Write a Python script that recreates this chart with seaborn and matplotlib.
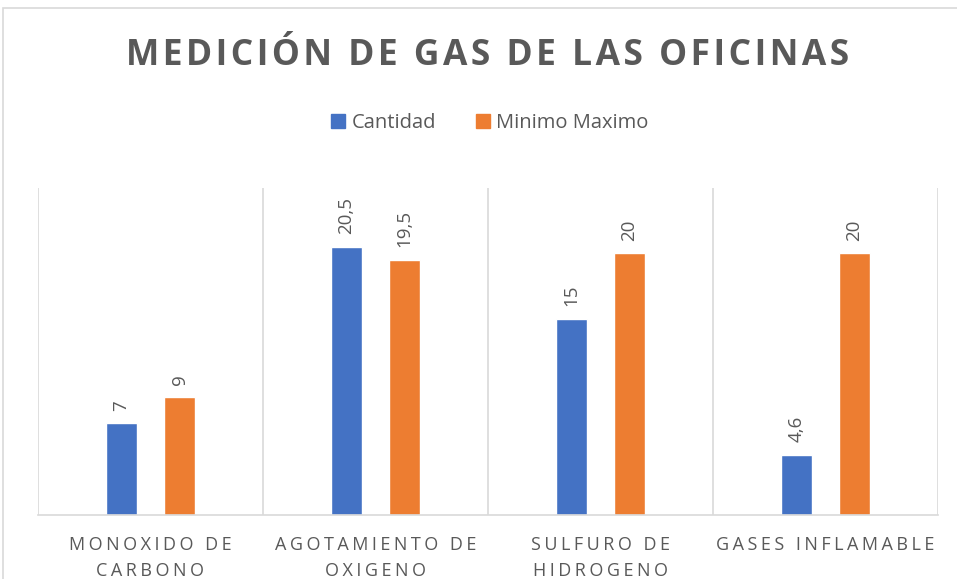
import numpy as np
import pandas as pd
import matplotlib
matplotlib.use("Agg")
import matplotlib.pyplot as plt
import seaborn as sns
from matplotlib.patches import Rectangle

# Data
categorias = ["MONOXIDO DE\nCARBONO", "AGOTAMIENTO DE\nOXIGENO", "SULFURO DE\nHIDROGENO", "GASES INFLAMABLE"]
cantidad = [7, 20.5, 15, 4.6]
minimo_maximo = [9, 19.5, 20, 20]
series = ["Cantidad", "Minimo Maximo"]
colores = ["#4472C4", "#ED7D31"]

df = pd.DataFrame({
    "categoria": categorias * 2,
    "serie": [series[0]] * 4 + [series[1]] * 4,
    "valor": cantidad + minimo_maximo,
})

sns.set_style("white")
plt.rcParams["font.family"] = ["Open Sans", "DejaVu Sans"]
gris = "#595959"

fig = plt.figure(figsize=(9.57, 5.79), dpi=100)
ax = fig.add_axes([38 / 957, 1 - 515 / 579, 900 / 957, (515 - 188) / 579])

sns.barplot(data=df, x="categoria", y="valor", hue="serie", palette=colores,
            width=0.516, gap=0.465, ax=ax, legend=False, saturation=1)

# value labels
for cont in ax.containers:
    ax.bar_label(cont, labels=[f"{v:g}".replace(".", ",") for v in cont.datavalues],
                 rotation=90, padding=9, color=gris, fontsize=13.5)

ax.set_ylim(0, 25)
ax.set_xlim(-0.5, 3.5)
ax.set_yticks([])
ax.set_xlabel("")
ax.set_ylabel("")


# letter spacing with hair spaces
def espaciar(t, n=1):
    sep = "\u200a" * n
    return "\n".join(sep.join(linea) for linea in t.split("\n"))


ax.set_xticks(range(len(categorias)))
ax.set_xticklabels([espaciar(c, 2) for c in categorias], color=gris, fontsize=13,
                   linespacing=1.6)
ax.tick_params(axis="x", length=0, pad=15)

ax.set_xticks(np.arange(-0.5, 4, 1), minor=True)
ax.tick_params(axis="x", which="minor", length=0)
ax.grid(True, which="minor", axis="x", color="#D9D9D9", linewidth=1.2)
for s in ["top", "right", "left"]:
    ax.spines[s].set_visible(False)
ax.spines["bottom"].set_color("#D9D9D9")
ax.spines["bottom"].set_linewidth(1.2)

# title
fig.text(488 / 957, 1 - 56 / 579, espaciar("MEDICIÓN DE GAS DE LAS OFICINAS", 1),
         ha="center", va="center", fontsize=25.5, fontweight="bold", color=gris)

# legend
handles = [Rectangle((0, 0), 1, 1, color=c) for c in colores]
fig.legend(handles, series, loc="center", bbox_to_anchor=(490 / 957, 1 - 123 / 579),
           ncol=2, frameon=False, fontsize=14.5, handlelength=0.7, handleheight=0.7,
           handletextpad=0.3, columnspacing=2.0, labelcolor=gris)

# outer border of the chart
fig.patches.append(Rectangle((3 / 957, -0.1), 1.2, 1 - 8 / 579 + 0.1, transform=fig.transFigure,
                             fill=False, edgecolor="#D9D9D9", linewidth=1.2))

fig.savefig("out.png", dpi=100)
